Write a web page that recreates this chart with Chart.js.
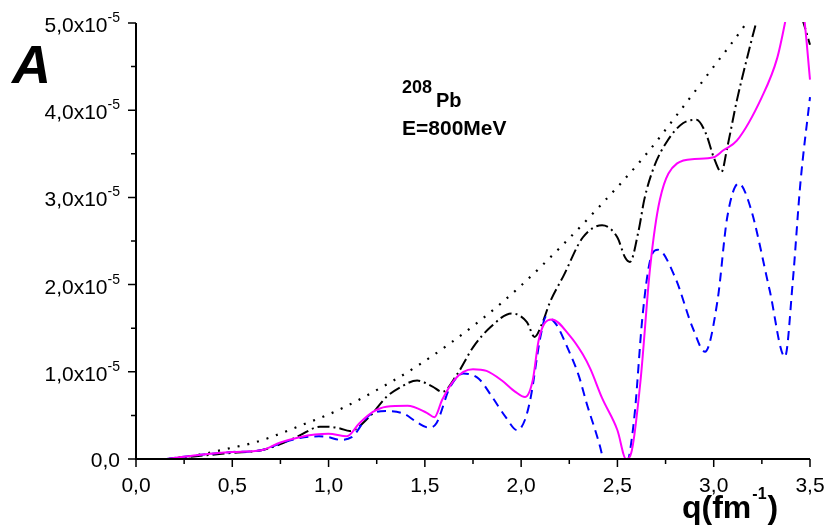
<!DOCTYPE html>
<html>
<head>
<meta charset="utf-8">
<script src="https://cdn.jsdelivr.net/npm/chart.js@4/dist/chart.umd.min.js"></script>
<style>
  html, body { margin: 0; padding: 0; background: #fff; }
  #wrap { width: 827px; height: 532px; }
</style>
</head>
<body>
<div id="wrap"><canvas id="chart" width="827" height="532"></canvas></div>
<script>
// values in units of 10^-5
const qDot = [0.17, 0.33, 0.5, 0.6, 0.7, 0.85, 1.03, 1.2, 1.47, 1.8, 2.0, 2.2, 2.4, 2.64, 2.8, 3.0, 3.16, 3.3];
const aDot = [0.0, 0.05, 0.13, 0.18, 0.25, 0.38, 0.54, 0.73, 1.08, 1.61, 1.99, 2.42, 2.88, 3.47, 3.92, 4.5, 4.97, 5.45];

const qDashDot = [0.17, 0.3, 0.5, 0.65, 0.75, 0.85, 0.955, 1.0, 1.06, 1.11, 1.21, 1.3, 1.37, 1.46, 1.54, 1.59, 1.67, 1.75, 1.84, 1.95, 2.03, 2.07, 2.11, 2.15, 2.22, 2.32, 2.42, 2.5, 2.54, 2.565, 2.61, 2.64, 2.69, 2.76, 2.84, 2.91, 2.96, 3.0, 3.04, 3.07, 3.12, 3.17, 3.22, 3.3, 3.4, 3.46, 3.5];
const aDashDot = [0.0, 0.03, 0.07, 0.1, 0.17, 0.27, 0.37, 0.37, 0.35, 0.32, 0.48, 0.71, 0.82, 0.9, 0.83, 0.77, 0.98, 1.28, 1.51, 1.67, 1.57, 1.4, 1.56, 1.8, 2.1, 2.54, 2.68, 2.54, 2.31, 2.26, 2.62, 2.98, 3.35, 3.65, 3.85, 3.89, 3.73, 3.46, 3.29, 3.57, 4.11, 4.57, 5.0, 5.6, 5.5, 5.05, 4.75];

const qSolid = [0.16, 0.3, 0.5, 0.65, 0.75, 0.85, 0.93, 1.0, 1.095, 1.16, 1.23, 1.3, 1.41, 1.51, 1.55, 1.59, 1.65, 1.7, 1.75, 1.82, 1.9, 1.97, 2.02, 2.06, 2.09, 2.12, 2.16, 2.25, 2.32, 2.36, 2.42, 2.5, 2.545, 2.575, 2.62, 2.67, 2.72, 2.81, 2.9, 3.0, 3.05, 3.12, 3.25, 3.33, 3.37, 3.42, 3.47, 3.5];
const aSolid = [0.0, 0.04, 0.08, 0.1, 0.19, 0.25, 0.28, 0.29, 0.26, 0.41, 0.54, 0.6, 0.61, 0.53, 0.48, 0.68, 0.9, 1.0, 1.03, 1.01, 0.9, 0.77, 0.71, 0.9, 1.35, 1.55, 1.6, 1.42, 1.2, 1.03, 0.7, 0.33, 0.0, 0.1, 0.9, 2.2, 2.97, 3.39, 3.44, 3.46, 3.54, 3.65, 4.15, 4.6, 5.0, 5.6, 5.05, 4.35];

const qDash = [0.16, 0.3, 0.5, 0.65, 0.75, 0.85, 0.95, 1.0, 1.06, 1.12, 1.21, 1.3, 1.39, 1.46, 1.52, 1.56, 1.63, 1.7, 1.78, 1.85, 1.92, 1.98, 2.02, 2.05, 2.1, 2.13, 2.18, 2.24, 2.3, 2.34, 2.41, 2.425, 2.49, 2.56, 2.59, 2.63, 2.67, 2.71, 2.8, 2.89, 2.955, 3.02, 3.07, 3.13, 3.19, 3.29, 3.37, 3.41, 3.45, 3.5];
const aDash = [0.0, 0.04, 0.08, 0.1, 0.18, 0.24, 0.26, 0.25, 0.22, 0.25, 0.5, 0.55, 0.52, 0.42, 0.36, 0.41, 0.82, 0.98, 0.92, 0.71, 0.48, 0.33, 0.45, 0.71, 1.4, 1.63, 1.55, 1.28, 0.95, 0.64, 0.14, 0.0, -0.6, 0.02, 0.53, 1.63, 2.28, 2.4, 2.08, 1.51, 1.23, 1.82, 2.77, 3.16, 2.89, 1.94, 1.17, 2.02, 3.16, 4.15];

const xMajor = [0, 0.5, 1.0, 1.5, 2.0, 2.5, 3.0, 3.5];
const xMinor = [0.25, 0.75, 1.25, 1.75, 2.25, 2.75, 3.25];
const yMajor = [0, 1, 2, 3, 4, 5];
const yMinor = [0.5, 1.5, 2.5, 3.5, 4.5];

function pts(xs, ys) {
    return xs.map((x, i) => ({ x: x, y: ys[i] }));
}

const FONT = '"Liberation Sans", Arial, sans-serif';

const axesPlugin = {
    id: 'axesPlugin',
    afterDraw(chart) {
        const ctx = chart.ctx;
        const a = chart.chartArea;
        const x = chart.scales.x, y = chart.scales.y;
        ctx.save();
        ctx.strokeStyle = '#000';
        ctx.lineWidth = 2;
        ctx.beginPath();
        ctx.moveTo(a.left, a.top);
        ctx.lineTo(a.left, a.bottom);
        ctx.lineTo(a.right, a.bottom);
        ctx.stroke();

        ctx.lineWidth = 1.5;
        ctx.beginPath();
        xMajor.forEach(v => { const p = x.getPixelForValue(v); ctx.moveTo(p, a.bottom); ctx.lineTo(p, a.bottom + 8); });
        xMinor.forEach(v => { const p = x.getPixelForValue(v); ctx.moveTo(p, a.bottom); ctx.lineTo(p, a.bottom + 5); });
        yMajor.forEach(v => { const p = y.getPixelForValue(v); ctx.moveTo(a.left, p); ctx.lineTo(a.left - 8, p); });
        yMinor.forEach(v => { const p = y.getPixelForValue(v); ctx.moveTo(a.left, p); ctx.lineTo(a.left - 5, p); });
        ctx.stroke();

        ctx.fillStyle = '#000';
        // x tick labels
        ctx.font = '21px ' + FONT;
        ctx.textAlign = 'center';
        ctx.textBaseline = 'alphabetic';
        xMajor.forEach(v => {
            ctx.fillText(v.toFixed(1).replace('.', ','), x.getPixelForValue(v), a.bottom + 33);
        });

        // y tick labels with superscript
        const right = 120;
        yMajor.forEach(v => {
            const p = y.getPixelForValue(v);
            ctx.textAlign = 'left';
            if (v === 0) {
                ctx.font = '21px ' + FONT;
                const w = ctx.measureText('0,0').width;
                ctx.fillText('0,0', right - w, p + 8);
                return;
            }
            const main = v.toFixed(1).replace('.', ',') + 'x10';
            ctx.font = '14px ' + FONT;
            const sw = ctx.measureText('-5').width;
            ctx.font = '21px ' + FONT;
            const mw = ctx.measureText(main).width;
            ctx.fillText(main, right - sw - mw, p + 9);
            ctx.font = '14px ' + FONT;
            ctx.fillText('-5', right - sw, p - 1);
        });

        // axis title q(fm^-1)
        ctx.textAlign = 'left';
        ctx.font = 'bold 32px ' + FONT;
        ctx.fillText('q(fm', 682, 518);
        const qw = ctx.measureText('q(fm').width;
        ctx.font = 'bold 16px ' + FONT;
        ctx.fillText('-1', 682 + qw + 1, 499);
        const sw1 = ctx.measureText('-1').width;
        ctx.font = 'bold 32px ' + FONT;
        ctx.fillText(')', 682 + qw + sw1 + 2, 518);

        // y axis title
        ctx.font = 'italic bold 54px ' + FONT;
        ctx.fillText('A', 12, 83);

        // annotation
        ctx.font = 'bold 18px ' + FONT;
        ctx.fillText('208', 402, 93);
        ctx.font = 'bold 20px ' + FONT;
        ctx.fillText('Pb', 436, 107);
        ctx.font = 'bold 21px ' + FONT;
        ctx.fillText('E=800MeV', 402, 135);
        ctx.restore();
    }
};

new Chart(document.getElementById('chart'), {
    type: 'line',
    data: {
        datasets: [
            {
                label: 'solid',
                data: pts(qSolid, aSolid),
                borderColor: '#ff00ff',
                borderWidth: 2,
                pointRadius: 0,
                cubicInterpolationMode: 'monotone',
                clip: 1
            },
            {
                label: 'dash',
                data: pts(qDash, aDash),
                borderColor: '#0000ff',
                borderWidth: 2,
                borderDash: [9, 6],
                pointRadius: 0,
                cubicInterpolationMode: 'monotone',
                clip: 1
            },
            {
                label: 'dashdot',
                data: pts(qDashDot, aDashDot),
                borderColor: '#000000',
                borderWidth: 2,
                borderDash: [12, 4, 2, 4],
                pointRadius: 0,
                cubicInterpolationMode: 'monotone',
                clip: 1
            },
            {
                label: 'dot',
                data: pts(qDot, aDot),
                borderColor: '#000000',
                borderWidth: 2.2,
                borderDash: [2, 8],
                pointRadius: 0,
                cubicInterpolationMode: 'monotone',
                clip: 1
            }
        ]
    },
    options: {
        responsive: false,
        animation: false,
        layout: { padding: { left: 136, right: 17, top: 23, bottom: 73 } },
        plugins: { legend: { display: false }, tooltip: { enabled: false } },
        scales: {
            x: { type: 'linear', min: 0, max: 3.5, display: false },
            y: { type: 'linear', min: 0, max: 5, display: false }
        }
    },
    plugins: [axesPlugin]
});
</script>
</body>
</html>
